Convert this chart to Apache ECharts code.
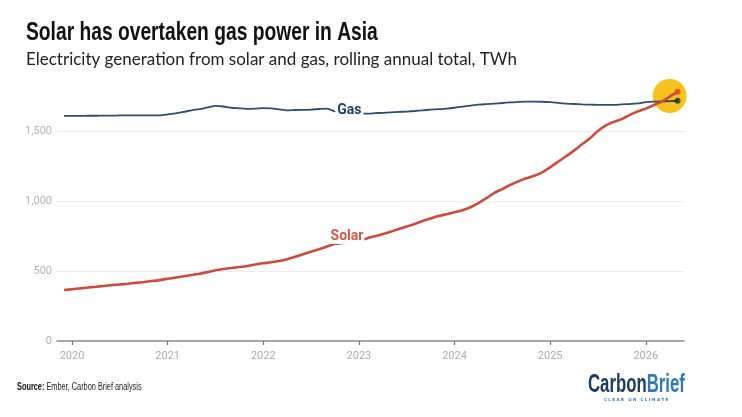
<!DOCTYPE html>
<html>
<head>
<meta charset="utf-8">
<script src="https://cdn.jsdelivr.net/npm/echarts@6/dist/echarts.min.js"></script>
<style>
  html, body { margin: 0; padding: 0; background: #fff; }
  #chart { width: 742px; height: 417px; }
</style>
</head>
<body>
<div id="chart"></div>
<script>
// rolling annual total, TWh, monthly from Dec 2019 to May 2026
var startYear = 2019, startMonth = 12;
var gas = [
  1608, 1608, 1608, 1609, 1609, 1610, 1610, 1611, 1611, 1611, 1611, 1612,
  1612, 1618, 1626, 1636, 1648, 1656, 1668, 1679, 1675, 1666, 1662, 1658,
  1660, 1664, 1662, 1655, 1648, 1650, 1651, 1653, 1657, 1660, 1640, 1630,
  1628, 1626, 1624, 1627, 1630, 1633, 1636, 1639, 1643, 1648, 1652, 1656,
  1660, 1666, 1674, 1682, 1688, 1692, 1696, 1700, 1704, 1708, 1710, 1710,
  1709, 1706, 1701, 1696, 1693, 1690, 1688, 1687, 1686, 1686, 1690, 1693,
  1697, 1706, 1710, 1712, 1713, 1716
];
var solar = [
  364, 370, 376, 382, 387, 393, 399, 404, 409, 415, 421, 428,
  435, 444, 453, 462, 471, 480, 492, 505, 514, 521, 528, 536,
  547, 555, 562, 571, 584, 601, 620, 637, 655, 675, 694, 700,
  705, 715, 733, 748, 764, 781, 800, 818, 836, 857, 875, 892,
  906, 920, 934, 955, 985, 1020, 1058, 1085, 1115, 1140, 1162, 1180,
  1205, 1240, 1280, 1320, 1360, 1405, 1448, 1500, 1540, 1565, 1585, 1615,
  1640, 1660, 1685, 1710, 1745, 1781
];
var yearTicks = [2020, 2021, 2022, 2023, 2024, 2025, 2026];
var valueTicks = [0, 500, 1000, 1500];
var crossover = [2026.25, 1750]; // highlighted point where solar passes gas

// month positions on the year scale
var months = solar.map(function (v, i) {
  return startYear + (startMonth - 1 + i) / 12;
});
function pairs(arr) {
  return arr.map(function (v, i) { return [months[i], v]; });
}
var last = months.length - 1;

var chart = echarts.init(document.getElementById('chart'), null, { renderer: 'canvas' });

// no narrow font installed, so the condensed texts are squeezed with scaleX
var narrow = '"Liberation Sans", Arial, sans-serif';

chart.setOption({
  backgroundColor: '#fff',
  animation: false,
  grid: { left: 57, right: 58, top: 89, bottom: 76, containLabel: false },
  xAxis: {
    type: 'value',
    min: 2019.843,
    max: 2026.40,
    axisLine: { show: true, lineStyle: { color: '#8a8a8a', width: 1.5 } },
    axisTick: { show: true, customValues: yearTicks, length: 4, lineStyle: { color: '#777', width: 1.2 } },
    axisLabel: {
      customValues: yearTicks,
      color: '#ababab', fontSize: 11, fontFamily: 'Roboto', margin: 10,
      formatter: function (v) { return String(v); }
    },
    splitLine: { show: false }
  },
  yAxis: {
    type: 'value',
    min: 0,
    max: 1800,
    interval: 500,
    axisLine: { show: false },
    axisTick: { show: false },
    axisLabel: {
      color: '#b3b3b3', fontSize: 11, fontFamily: 'Roboto', margin: 5,
      showMaxLabel: false,
      formatter: function (v) { return valueTicks.indexOf(v) >= 0 ? v.toLocaleString('en-US') : ''; }
    },
    splitLine: { show: true, showMaxLine: false, showMinLine: false, lineStyle: { color: '#ececec', width: 1 } }
  },
  series: [
    {
      name: 'highlight',
      type: 'scatter',
      data: [crossover],
      symbolSize: 34,
      itemStyle: { color: '#f6c31c', opacity: 1 },
      z: 1,
      silent: true
    },
    {
      name: 'Gas',
      type: 'line',
      data: pairs(gas),
      showSymbol: false,
      smooth: 0.2,
      lineStyle: { color: '#2d4e74', width: 1.8 },
      z: 3,
      markPoint: {
        symbol: 'rect', symbolSize: [1, 1],
        itemStyle: { color: 'rgba(0,0,0,0)' },
        label: {
          show: true, position: 'inside', formatter: 'Gas',
          color: '#21406a', fontFamily: 'Roboto', fontWeight: 'bold', fontSize: 14,
          backgroundColor: '#fff', padding: [1, 2]
        },
        data: [{ coord: [2022.90, 1643] }]
      }
    },
    {
      name: 'Solar',
      type: 'line',
      data: pairs(solar),
      showSymbol: false,
      smooth: 0.2,
      lineStyle: { color: '#d04a3c', width: 2.6 },
      z: 4,
      markPoint: {
        symbol: 'rect', symbolSize: [1, 1],
        itemStyle: { color: 'rgba(0,0,0,0)' },
        label: {
          show: true, position: 'inside', formatter: 'Solar',
          color: '#d5544a', fontFamily: 'Roboto', fontWeight: 'bold', fontSize: 14,
          backgroundColor: '#fff', padding: [1, 1]
        },
        data: [{ coord: [2022.875, 750] }]
      }
    },
    {
      name: 'ends',
      type: 'scatter',
      data: [
        { value: [months[last], gas[last]], itemStyle: { color: '#1d2f2c' } },
        { value: [months[last], solar[last]], itemStyle: { color: '#e8401f' } }
      ],
      symbolSize: 6,
      z: 5,
      silent: true
    }
  ],
  graphic: [
    {
      type: 'text', x: 26, y: 20, scaleX: 0.74,
      style: {
        text: 'Solar has overtaken gas power in Asia',
        font: 'bold 26px ' + narrow,
        fill: '#111', verticalAlign: 'top'
      }
    },
    {
      type: 'text', x: 26, y: 51,
      style: {
        text: 'Electricity generation from solar and gas, rolling annual total, TWh',
        font: '17px Lato, sans-serif',
        fill: '#222', verticalAlign: 'top'
      }
    },
    {
      type: 'text', x: 17, y: 382, scaleX: 0.7,
      style: {
        text: '{b|Source:} Ember, Carbon Brief analysis',
        font: '10.5px ' + narrow,
        fill: '#222', verticalAlign: 'top',
        rich: { b: { font: 'bold 10.5px ' + narrow, fill: '#111' } }
      }
    },
    {
      type: 'text', x: 588, y: 373, scaleX: 0.67,
      style: {
        text: '{c|Carbon}{r|Brief}',
        verticalAlign: 'top',
        rich: {
          c: { font: 'bold 25px ' + narrow, fill: '#1d3b63' },
          r: { font: 'bold 25px ' + narrow, fill: '#2f79b8' }
        }
      }
    },
    {
      type: 'text', x: 604, y: 398,
      style: {
        text: 'C L E A R   O N   C L I M A T E',
        font: 'bold 4px "DejaVu Sans", sans-serif',
        fill: '#2f79b8', verticalAlign: 'top'
      }
    }
  ]
});
</script>
</body>
</html>
